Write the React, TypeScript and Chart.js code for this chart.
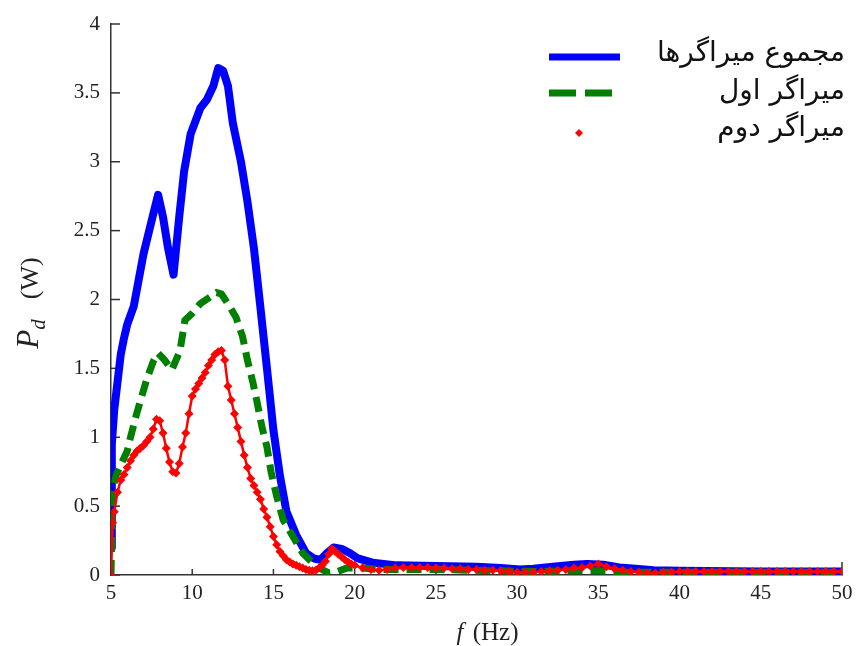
import React, { useEffect, useRef } from "react";
import { Chart, registerables } from "chart.js";

Chart.register(...registerables);

// ---- data ----
const xTicks = [5, 10, 15, 20, 25, 30, 35, 40, 45, 50];
const yTicks = [0, 0.5, 1, 1.5, 2, 2.5, 3, 3.5, 4];

const legendLabels = ["مجموع میراگرها", "میراگر اول", "میراگر دوم"];

const totalF = [5, 5.05, 5.2, 5.4, 5.6, 5.8, 6.0, 6.4, 7.0, 7.6, 7.9, 8.2, 8.5, 8.85, 9.2, 9.5, 9.9, 10.5, 10.9, 11.3, 11.6, 11.9, 12.2, 12.5, 13.0, 13.4, 13.8, 14.2, 14.6, 15.0, 15.4, 15.8, 16.4, 17.0, 17.5, 17.9, 18.3, 18.7, 19.2, 19.7, 20.2, 21.1, 22.6, 25, 27.5, 29, 30.2, 31, 32.2, 33.5, 34.3, 35.3, 36.3, 37.3, 38.4, 40, 45, 50];
const totalP = [0.2, 0.95, 1.2, 1.4, 1.6, 1.72, 1.82, 1.95, 2.33, 2.62, 2.76, 2.6, 2.38, 2.18, 2.6, 2.93, 3.2, 3.39, 3.45, 3.55, 3.68, 3.66, 3.55, 3.28, 3.0, 2.71, 2.37, 1.94, 1.5, 1.05, 0.72, 0.46, 0.29, 0.16, 0.12, 0.11, 0.16, 0.2, 0.19, 0.16, 0.12, 0.09, 0.07, 0.065, 0.06, 0.05, 0.04, 0.045, 0.06, 0.075, 0.08, 0.075, 0.055, 0.045, 0.035, 0.03, 0.025, 0.025];

const firstF = [5, 5.1, 5.3, 5.6, 6.0, 6.2, 6.6, 7.2, 7.6, 7.9, 8.3, 8.75, 9.25, 9.55, 10.0, 10.5, 11.0, 11.5, 11.8, 12.3, 12.7, 13.1, 13.4, 13.75, 14.0, 14.3, 14.6, 14.85, 15.2, 15.6, 16.2, 16.8, 17.4, 18.0, 18.4, 18.8, 19.5, 20.5, 21.5, 23, 25, 27, 29, 31, 33, 35, 37, 40, 45, 50];
const firstP = [0, 0.6, 0.72, 0.8, 0.9, 1.0, 1.18, 1.42, 1.55, 1.61, 1.56, 1.49, 1.63, 1.85, 1.9, 1.97, 2.01, 2.05, 2.04, 1.95, 1.87, 1.73, 1.56, 1.39, 1.25, 1.07, 0.93, 0.75, 0.57, 0.4, 0.28, 0.16, 0.09, 0.04, 0.015, 0.02, 0.05, 0.05, 0.04, 0.04, 0.04, 0.035, 0.03, 0.025, 0.03, 0.03, 0.02, 0.02, 0.02, 0.02];

const secondF = [5, 5.1, 5.2, 5.4, 5.6, 5.8, 6.0, 6.2, 6.4, 6.6, 6.8, 7.0, 7.2, 7.4, 7.6, 7.8, 8.0, 8.2, 8.4, 8.6, 8.8, 9.0, 9.2, 9.4, 9.6, 9.8, 10.0, 10.2, 10.4, 10.6, 10.8, 11.0, 11.2, 11.4, 11.6, 11.8, 12.0, 12.2, 12.4, 12.6, 12.8, 13.0, 13.2, 13.4, 13.6, 13.8, 14.0, 14.2, 14.4, 14.6, 14.8, 15.0, 15.2, 15.4, 15.6, 15.8, 16.0, 16.2, 16.4, 16.6, 16.8, 17.0, 17.2, 17.4, 17.6, 17.8, 18.0, 18.2, 18.4, 18.6, 18.8, 19.0, 19.2, 19.4, 19.6, 19.8, 20.0,
  20.5, 21, 21.5, 22, 22.5, 23, 23.5, 24, 24.5, 25, 25.5, 26, 26.5, 27, 27.5, 28, 28.5, 29, 29.5, 30, 30.5, 31, 31.5, 32, 32.5, 33, 33.5, 34, 34.5, 35, 35.5, 36, 36.5, 37, 37.5, 38, 38.5, 39, 39.5, 40, 40.5, 41, 41.5, 42, 42.5, 43, 43.5, 44, 44.5, 45, 45.5, 46, 46.5, 47, 47.5, 48, 48.5, 49, 49.5, 50];
const secondP = [0, 0.38, 0.46, 0.6, 0.69, 0.73, 0.78, 0.83, 0.87, 0.9, 0.92, 0.94, 0.97, 1.0, 1.06, 1.13, 1.12, 1.03, 0.92, 0.82, 0.75, 0.74, 0.81, 0.93, 1.03, 1.17, 1.3, 1.35, 1.39, 1.43, 1.47, 1.52, 1.56, 1.6, 1.62, 1.63, 1.56, 1.37, 1.27, 1.17, 1.07, 0.97, 0.87, 0.78, 0.7, 0.65, 0.6, 0.55, 0.48, 0.42, 0.35, 0.28, 0.22, 0.17, 0.14, 0.11, 0.095, 0.08, 0.07, 0.06, 0.05, 0.04, 0.035, 0.03, 0.035, 0.05, 0.07, 0.1, 0.15, 0.19, 0.17, 0.15, 0.13, 0.11, 0.095, 0.08, 0.07,
  0.05, 0.04, 0.035, 0.04, 0.05, 0.055, 0.055, 0.055, 0.055, 0.05, 0.05, 0.045, 0.045, 0.04, 0.04, 0.035, 0.035, 0.03, 0.025, 0.02, 0.02, 0.02, 0.025, 0.03, 0.035, 0.04, 0.05, 0.055, 0.065, 0.08, 0.06, 0.045, 0.035, 0.025, 0.02, 0.015, 0.015, 0.02, 0.02, 0.025, 0.025, 0.025, 0.025, 0.025, 0.025, 0.025, 0.025, 0.025, 0.025, 0.025, 0.025, 0.025, 0.025, 0.025, 0.025, 0.025, 0.025, 0.025, 0.025, 0.025];

const BLUE = "#0000ff";
const GREEN = "#007f00";
const RED = "#ff0000";
const SERIF = "'Liberation Serif', 'Times New Roman', serif";

const toXY = (xs: number[], ys: number[]) => xs.map((x, i) => ({ x, y: ys[i] }));

const decorPlugin = {
  id: "decor",
  beforeDatasetsDraw(chart: any) {
    const { ctx, chartArea, scales } = chart;
    ctx.save();
    ctx.strokeStyle = "#333";
    ctx.lineWidth = 1.5;
    xTicks.forEach((v) => {
      const px = scales.x.getPixelForValue(v);
      const len = v === 50 ? 13 : 6;
      ctx.beginPath();
      ctx.moveTo(px, chartArea.bottom);
      ctx.lineTo(px, chartArea.bottom - len);
      ctx.stroke();
    });
    yTicks.forEach((v) => {
      const py = scales.y.getPixelForValue(v);
      ctx.beginPath();
      ctx.moveTo(chartArea.left, py);
      ctx.lineTo(chartArea.left + 9, py);
      ctx.stroke();
    });
    ctx.restore();
  },
  afterDraw(chart: any) {
    const { ctx } = chart;
    ctx.save();
    ctx.fillStyle = "#222";
    ctx.textBaseline = "alphabetic";

    // x axis title: f (Hz)
    ctx.font = `italic 25px ${SERIF}`;
    const fW = ctx.measureText("f").width;
    ctx.font = `25px ${SERIF}`;
    const hzW = ctx.measureText(" (Hz)").width;
    const sx = 486 - (fW + hzW) / 2;
    ctx.font = `italic 25px ${SERIF}`;
    ctx.textAlign = "left";
    ctx.fillText("f", sx, 640);
    ctx.font = `25px ${SERIF}`;
    ctx.fillText(" (Hz)", sx + fW + 3, 640);

    // y axis title: P_d (W)
    ctx.save();
    ctx.translate(38, 303);
    ctx.rotate(-Math.PI / 2);
    ctx.font = `italic 31px ${SERIF}`;
    const pW = ctx.measureText("P").width;
    ctx.font = `italic 21px ${SERIF}`;
    const dW = ctx.measureText("d").width;
    ctx.font = `26px ${SERIF}`;
    const wW = ctx.measureText("(W)").width;
    const gap = 20;
    const total = pW + dW + gap + wW;
    let tx = -total / 2;
    ctx.font = `italic 31px ${SERIF}`;
    ctx.fillText("P", tx, 0);
    tx += pW;
    ctx.font = `italic 21px ${SERIF}`;
    ctx.fillText("d", tx, 7);
    tx += dW + gap;
    ctx.font = `26px ${SERIF}`;
    ctx.fillText("(W)", tx, 0);
    ctx.restore();

    // legend
    const rows = [57, 93, 133];
    const base = [61, 99, 136];
    ctx.font = `28px 'DejaVu Sans', 'Noto Sans', sans-serif`;
    ctx.textAlign = "right";
    ctx.fillStyle = "#111";
    ctx.direction = "rtl";
    legendLabels.forEach((t, i) => {
      ctx.fillText(t, 845, base[i]);
    });
    ctx.direction = "ltr";
    ctx.lineCap = "butt";
    ctx.strokeStyle = BLUE;
    ctx.lineWidth = 7;
    ctx.beginPath();
    ctx.moveTo(549, rows[0]);
    ctx.lineTo(620, rows[0]);
    ctx.stroke();
    ctx.strokeStyle = GREEN;
    ctx.beginPath();
    ctx.moveTo(549, rows[1]);
    ctx.lineTo(576, rows[1]);
    ctx.moveTo(585, rows[1]);
    ctx.lineTo(612, rows[1]);
    ctx.stroke();
    ctx.fillStyle = RED;
    const cx = 579, cy = rows[2], r = 4;
    ctx.beginPath();
    ctx.moveTo(cx, cy - r);
    ctx.lineTo(cx + r, cy);
    ctx.lineTo(cx, cy + r);
    ctx.lineTo(cx - r, cy);
    ctx.closePath();
    ctx.fill();
    ctx.restore();
  },
};

export default function App() {
  const ref = useRef<HTMLCanvasElement | null>(null);
  useEffect(() => {
    if (!ref.current) return;
    const chart = new Chart(ref.current, {
      type: "line",
      data: {
        datasets: [
          {
            label: legendLabels[0],
            data: toXY(totalF, totalP),
            borderColor: BLUE,
            backgroundColor: BLUE,
            borderWidth: 8,
            pointRadius: 0,
            borderJoinStyle: "round",
            order: 3,
          },
          {
            label: legendLabels[1],
            data: toXY(firstF, firstP),
            borderColor: GREEN,
            backgroundColor: GREEN,
            borderWidth: 7,
            borderDash: [15, 8],
            pointRadius: 0,
            order: 2,
          },
          {
            label: legendLabels[2],
            data: toXY(secondF, secondP),
            borderColor: RED,
            backgroundColor: RED,
            borderWidth: 2.5,
            pointRadius: 4.5,
            pointStyle: "rectRot",
            pointBorderWidth: 0,
            pointBackgroundColor: RED,
            order: 1,
          },
        ],
      },
      options: {
        animation: false,
        responsive: false,
        maintainAspectRatio: false,
        parsing: false as any,
        layout: { padding: { top: 24, right: 24, left: 0, bottom: 0 } },
        plugins: { legend: { display: false }, tooltip: { enabled: false }, title: { display: false } },
        scales: {
          x: {
            type: "linear",
            min: 5,
            max: 50,
            afterBuildTicks: (s: any) => {
              s.ticks = xTicks.map((v) => ({ value: v }));
            },
            afterFit: (s: any) => {
              s.height = 71;
            },
            ticks: {
              font: { family: SERIF, size: 21 },
              color: "#222",
              padding: 6,
              maxRotation: 0,
              autoSkip: false,
              callback: (v: any) => String(v),
            },
            grid: { display: true, drawOnChartArea: false, drawTicks: false },
            border: { display: true, color: "#333", width: 1.5 },
          },
          y: {
            type: "linear",
            min: 0,
            max: 4,
            afterBuildTicks: (s: any) => {
              s.ticks = yTicks.map((v) => ({ value: v }));
            },
            afterFit: (s: any) => {
              s.width = 111;
            },
            ticks: {
              font: { family: SERIF, size: 21 },
              color: "#222",
              padding: 11,
              autoSkip: false,
              callback: (v: any) => String(v),
            },
            grid: { display: true, drawOnChartArea: false, drawTicks: false },
            border: { display: true, color: "#333", width: 1.5 },
          },
        },
      },
      plugins: [decorPlugin],
    } as any);
    return () => chart.destroy();
  }, []);
  return (
    <div style={{ position: "absolute", left: 0, top: 0, width: 866, height: 646, background: "#fff" }}>
      <canvas ref={ref} width={866} height={646} style={{ width: 866, height: 646, display: "block" }} />
    </div>
  );
}
